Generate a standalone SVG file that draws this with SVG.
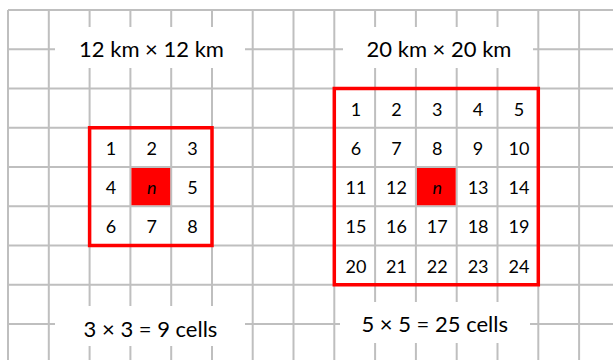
<svg xmlns="http://www.w3.org/2000/svg" width="613" height="360" viewBox="0 0 613 360">
<style>
.g{stroke:#bfbfbf;stroke-width:2;fill:none}
.box{fill:none;stroke:#ff0000;stroke-width:3.5}
.hl{fill:#ff0000}
.mask{fill:#ffffff}
.c{font-family:Lato,"Liberation Sans",sans-serif;font-size:18px;fill:#000;text-anchor:middle}
.lbl{font-family:Lato,"Liberation Sans",sans-serif;font-size:22px;fill:#000;text-anchor:middle}
.n{font-style:italic}
</style>
<rect width="613" height="360" fill="#ffffff"/>
<g id="grid" class="g">
<path d="M8,10V360M48.8,10V360M89.6,10V360M130.4,10V360M171.2,10V360M212,10V360M252.7,10V360M293.5,10V360M334.3,10V360M375.1,10V360M415.9,10V360M456.7,10V360M497.5,10V360M538.3,10V360M579.1,10V360"/>
<path d="M8,10H613M8,49.25H613M8,88.5H613M8,127.75H613M8,167H613M8,206.25H613M8,245.5H613M8,284.75H613M8,324H613"/>
</g>
<g id="label-masks">
<rect class="mask" x="55" y="27" width="190" height="41"/>
<rect class="mask" x="343" y="27" width="190" height="41"/>
<rect class="mask" x="55" y="306" width="190" height="40"/>
<rect class="mask" x="340" y="302" width="190" height="41"/>
</g>
<g id="left-panel">
<rect class="hl" x="131.4" y="168" width="38.8" height="37.25"/>
<rect class="box" x="89.6" y="127.75" width="122.4" height="117.75"/>
<text class="c" x="111" y="155">1</text>
<text class="c" x="151.8" y="155">2</text>
<text class="c" x="192.6" y="155">3</text>
<text class="c" x="111" y="194">4</text>
<text class="c n" x="151.8" y="194">n</text>
<text class="c" x="192.6" y="194">5</text>
<text class="c" x="111" y="233.4">6</text>
<text class="c" x="151.8" y="233.4">7</text>
<text class="c" x="192.6" y="233.4">8</text>
</g>
<g id="right-panel">
<rect class="hl" x="416.9" y="168" width="38.8" height="37.25"/>
<rect class="box" x="334.3" y="88.5" width="204" height="196.25"/>
<text class="c" x="356" y="115.6">1</text>
<text class="c" x="396.5" y="115.6">2</text>
<text class="c" x="437.3" y="115.6">3</text>
<text class="c" x="478.1" y="115.6">4</text>
<text class="c" x="518.9" y="115.6">5</text>
<text class="c" x="356" y="154.9">6</text>
<text class="c" x="396.5" y="154.9">7</text>
<text class="c" x="437.3" y="154.9">8</text>
<text class="c" x="478.1" y="154.9">9</text>
<text class="c" x="518.9" y="154.9">10</text>
<text class="c" x="356" y="194">11</text>
<text class="c" x="396.5" y="194">12</text>
<text class="c n" x="437.3" y="194">n</text>
<text class="c" x="478.1" y="194">13</text>
<text class="c" x="518.9" y="194">14</text>
<text class="c" x="356" y="233.4">15</text>
<text class="c" x="396.5" y="233.4">16</text>
<text class="c" x="437.3" y="233.4">17</text>
<text class="c" x="478.1" y="233.4">18</text>
<text class="c" x="518.9" y="233.4">19</text>
<text class="c" x="356" y="272.6">20</text>
<text class="c" x="396.5" y="272.6">21</text>
<text class="c" x="437.3" y="272.6">22</text>
<text class="c" x="478.1" y="272.6">23</text>
<text class="c" x="518.9" y="272.6">24</text>
</g>
<g id="labels">
<text class="lbl" x="151.5" y="57">12 km × 12 km</text>
<text class="lbl" x="439" y="57">20 km × 20 km</text>
<text class="lbl" x="150.5" y="336.5">3 × 3 = 9 cells</text>
<text class="lbl" x="434.7" y="332">5 × 5 = 25 cells</text>
</g>
</svg>
